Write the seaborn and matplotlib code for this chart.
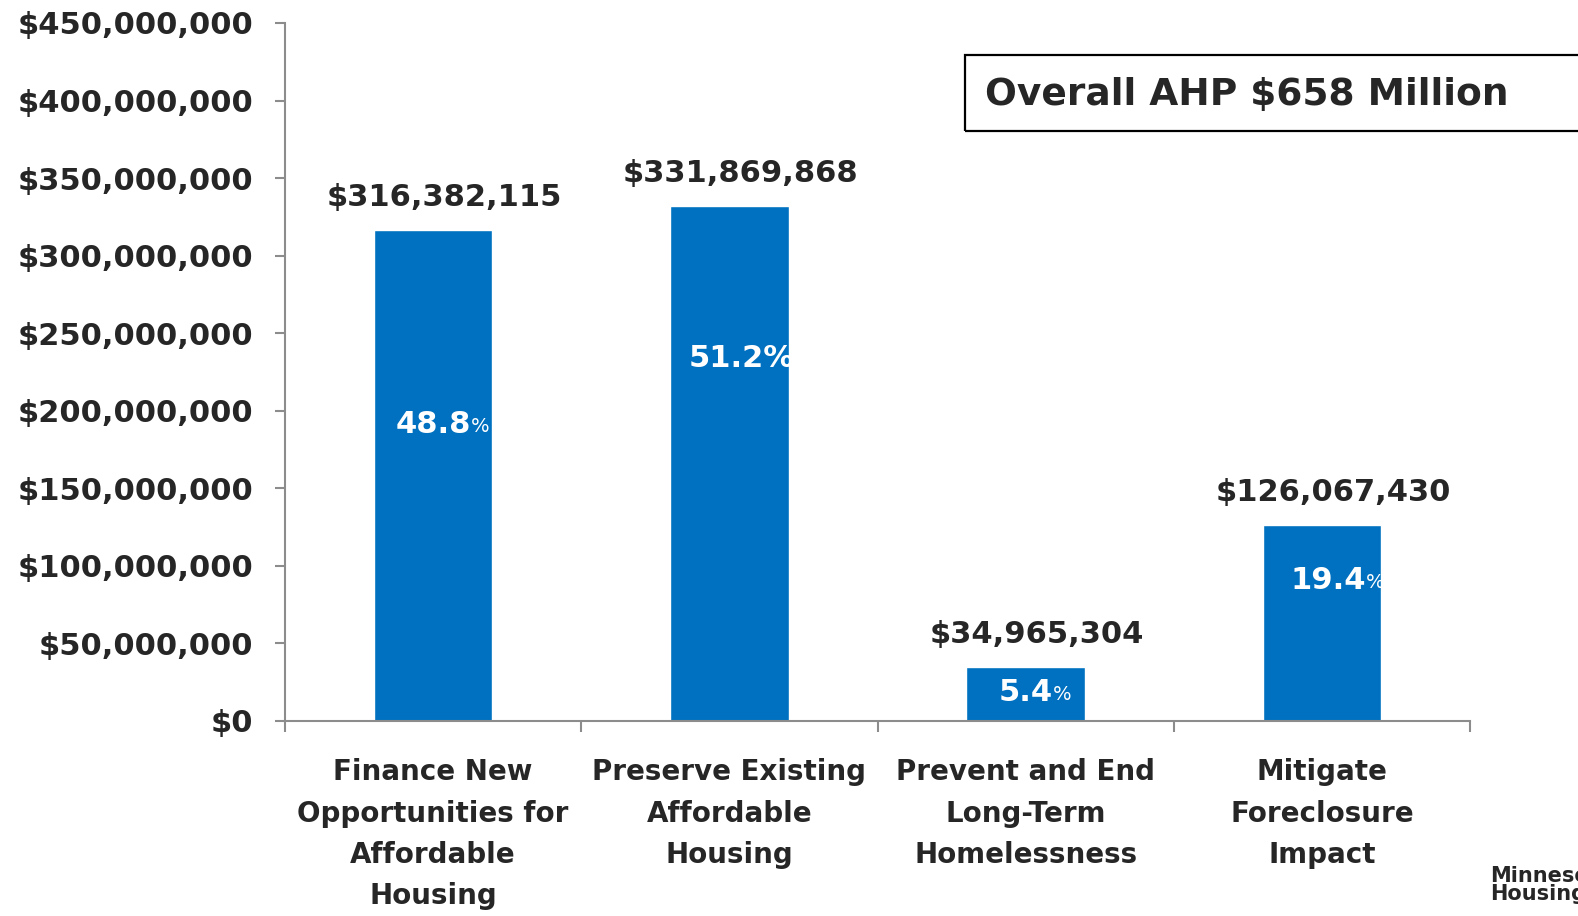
import matplotlib
matplotlib.use("Agg")
import matplotlib.pyplot as plt
import matplotlib.patches as mpatches
import seaborn as sns
import pandas as pd
from matplotlib.ticker import FuncFormatter, FixedLocator

# data
categories = ["Finance New\nOpportunities for\nAffordable\nHousing",
              "Preserve Existing\nAffordable\nHousing",
              "Prevent and End\nLong-Term\nHomelessness",
              "Mitigate\nForeclosure\nImpact"]
amounts = [316382115, 331869868, 34965304, 126067430]
shares = ["48.8", "51.2", "5.4", "19.4"]
small_pct = [True, False, True, True]
title_box = "Overall AHP $658 Million"

sns.set_theme(style="white")
plt.rcParams['font.family'] = ['DejaVu Sans']
plt.rcParams['font.weight'] = 'bold'

dark = '#262626'
blue = '#0070C0'
grey = '#8c8c8c'

df = pd.DataFrame({'category': categories, 'amount': amounts})

fig = plt.figure(figsize=(15.78, 9.16), dpi=100)
ax = fig.add_axes([0.1806, 0.2129, 0.9316 - 0.1806, 0.9749 - 0.2129])

sns.barplot(data=df, x='category', y='amount', color=blue, saturation=1,
            width=0.4, ax=ax)

ax.set_xlim(-0.5, 3.5)
ax.set_ylim(0, 450000000)
ax.set_yticks(range(0, 450000001, 50000000))
ax.yaxis.set_major_formatter(FuncFormatter(lambda v, p: '${:,.0f}'.format(v)))
ax.set_xlabel('')
ax.set_ylabel('')

for s in ['top', 'right']:
    ax.spines[s].set_visible(False)
for s in ['left', 'bottom']:
    ax.spines[s].set_color(grey)
    ax.spines[s].set_linewidth(1.5)

ax.tick_params(axis='y', which='major', direction='out', length=7, width=1.5,
               color=grey, left=True, pad=16, labelsize=22, labelcolor=dark)
ax.tick_params(axis='x', which='major', length=0, pad=27, labelsize=20,
               labelcolor=dark)
ax.xaxis.set_minor_locator(FixedLocator([-0.5, 0.5, 1.5, 2.5, 3.5]))
ax.tick_params(axis='x', which='minor', direction='out', length=8, width=1.5,
               color=grey, bottom=True)
for lab in ax.get_xticklabels():
    lab.set_linespacing(1.6)
    lab.set_fontweight('bold')
for lab in ax.get_yticklabels():
    lab.set_fontweight('bold')

# value labels above bars
for i, v in enumerate(amounts):
    ax.annotate('${:,}'.format(v), xy=(i, v), xytext=(8, 13),
                textcoords='offset points', ha='center', va='bottom',
                fontsize=22, fontweight='bold', color=dark)

# share labels inside bars
share_frac = [0.605, 0.705, 0.53, 0.72]
share_dx = [0.0, 0.04, 0.0, 0.02]
for i, (sh, small) in enumerate(zip(shares, small_pct)):
    y = amounts[i] * share_frac[i]
    if small:
        t = ax.text(i + share_dx[i], y, sh, ha='center', va='center', fontsize=22,
                    fontweight='bold', color='white')
        ax.annotate('%', xy=(1, 0.08), xycoords=t, ha='left', va='bottom',
                    fontsize=14, color='white', fontweight='normal')
    else:
        ax.text(i + share_dx[i], y, sh + '%', ha='center', va='center',
                fontsize=22, fontweight='bold', color='white')

# summary box at top right
fig.patches.append(mpatches.Rectangle((965 / 1578, 1 - 131 / 916), 0.5, 76 / 916,
                                      transform=fig.transFigure, fill=False,
                                      edgecolor='black', linewidth=1.6))
fig.text(985 / 1578, 1 - 95 / 916, title_box, ha='left', va='center',
         fontsize=27, fontweight='bold', color=dark)

# logo fragment at the corner (cut by the edge, as in the original)
fig.text(1490 / 1578, 1 - 866 / 916, "Minnesota\nHousing", ha='left', va='top',
         fontsize=15, fontweight='bold', color=dark, linespacing=0.85)

fig.savefig('out.png', dpi=100)
